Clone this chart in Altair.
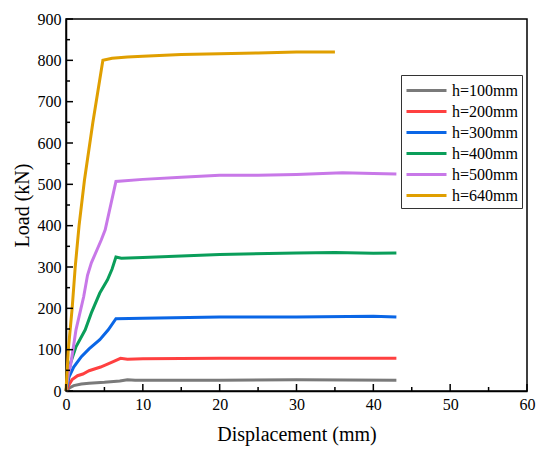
import altair as alt
import pandas as pd

series = ["h=100mm", "h=200mm", "h=300mm", "h=400mm", "h=500mm", "h=640mm"]
colors = ["#7a7a7a", "#ff4040", "#0a66e6", "#0a9e5a", "#c878e8", "#e09f00"]

x100 = [0, 0.5, 1, 2, 3, 5, 7, 8, 9, 20, 30, 43]
y100 = [0, 8, 13, 17, 19, 21, 24, 27, 26, 26, 27, 26]

x200 = [0, 0.4, 0.8, 1.5, 2.2, 3.0, 4.5, 6.0, 7.1, 8, 10, 20, 30, 43]
y200 = [0, 15, 28, 37, 41, 49, 58, 70, 79, 77, 78, 79, 79, 79]

x300 = [0, 0.4, 1.0, 2.0, 3.0, 4.4, 5.5, 6.5, 10, 20, 30, 40, 43]
y300 = [0, 34, 58, 83, 102, 124, 148, 175, 176, 179, 179, 181, 179]

x400 = [0, 0.3, 0.6, 1.3, 2.5, 3.3, 4.4, 5.4, 6.0, 6.5, 7.2, 10, 20, 30, 35, 40, 43]
y400 = [0, 40, 68, 107, 148, 189, 237, 269, 295, 324, 321, 323, 330, 334, 335, 333, 334]

x500 = [0, 0.3, 0.65, 1.3, 2.3, 2.8, 3.3, 4.6, 5.1, 6.5, 10, 15, 20, 25, 30, 36, 40, 43]
y500 = [0, 40, 68, 148, 228, 280, 310, 366, 390, 507, 512, 517, 522, 522, 524, 528, 526, 525]

x640 = [0, 0.3, 0.8, 1.2, 1.7, 2.4, 3.5, 4.8, 6, 8, 10, 15, 20, 25, 30, 35]
y640 = [0, 100, 200, 300, 400, 510, 650, 800, 805, 808, 810, 814, 816, 818, 820, 820]

xs = [x100, x200, x300, x400, x500, x640]
ys = [y100, y200, y300, y400, y500, y640]

x_major = [0, 10, 20, 30, 40, 50, 60]
x_minor = [5, 15, 25, 35, 45, 55]
y_major = [0, 100, 200, 300, 400, 500, 600, 700, 800, 900]
y_minor = [50, 150, 250, 350, 450, 550, 650, 750, 850]

rows = []
for s, xv, yv in zip(series, xs, ys):
    for i, (a, b) in enumerate(zip(xv, yv)):
        rows.append({"series": s, "x": a, "y": b, "order": i})
df = pd.DataFrame(rows)

FONT = "Times New Roman, Liberation Serif, serif"
W, H = 461, 372

xscale = alt.Scale(domain=[0, 60], nice=False)
yscale = alt.Scale(domain=[0, 900], nice=False)
common = dict(tickSize=0, grid=False, domainColor="black", domainWidth=1.5,
              labelFlush=False, labelOverlap=False,
              labelFont=FONT, labelFontSize=16, labelColor="black",
              titleFont=FONT, titleFontSize=20, titleFontWeight="normal", titleColor="black")
xaxis = alt.Axis(title="Displacement (mm)", values=x_major, labelPadding=5, titlePadding=12, **common)
yaxis = alt.Axis(title="Load (kN)", values=y_major, labelPadding=5, titlePadding=5, **common)

lines = alt.Chart(df).mark_line(strokeWidth=3).encode(
    x=alt.X("x:Q", scale=xscale, axis=xaxis),
    y=alt.Y("y:Q", scale=yscale, axis=yaxis),
    color=alt.Color("series:N", scale=alt.Scale(domain=series, range=colors),
                    legend=alt.Legend(title=None, orient="none", legendX=335, legendY=56)),
    order="order:Q",
)

def xticks(vals, length):
    return alt.Chart(pd.DataFrame({"x": vals})).mark_rule(color="black", strokeWidth=1.5).encode(
        x=alt.X("x:Q", scale=xscale, axis=xaxis), y=alt.value(H), y2=alt.value(H - length))

def yticks(vals, length):
    return alt.Chart(pd.DataFrame({"y": vals})).mark_rule(color="black", strokeWidth=1.5).encode(
        y=alt.Y("y:Q", scale=yscale, axis=yaxis), x=alt.value(0), x2=alt.value(length))

chart = alt.layer(
    lines, xticks(x_major, 7), xticks(x_minor, 4), yticks(y_major, 7), yticks(y_minor, 4)
).properties(
    width=W, height=H,
    autosize=alt.AutoSizeParams(type="none"),
    padding={"left": 58, "top": 11, "right": 15, "bottom": 60},
).configure(
    font=FONT
).configure_view(
    stroke="black", strokeWidth=1.5
).configure_legend(
    labelFont=FONT, labelFontSize=16, labelColor="black",
    symbolType="M-1,0H3", symbolSize=400, symbolStrokeWidth=3,
    strokeColor="#333333", fillColor="white", padding=4,
    rowPadding=1, labelOffset=24, cornerRadius=0,
)

chart.save("out.html", embed_options={"renderer": "svg", "actions": False})
